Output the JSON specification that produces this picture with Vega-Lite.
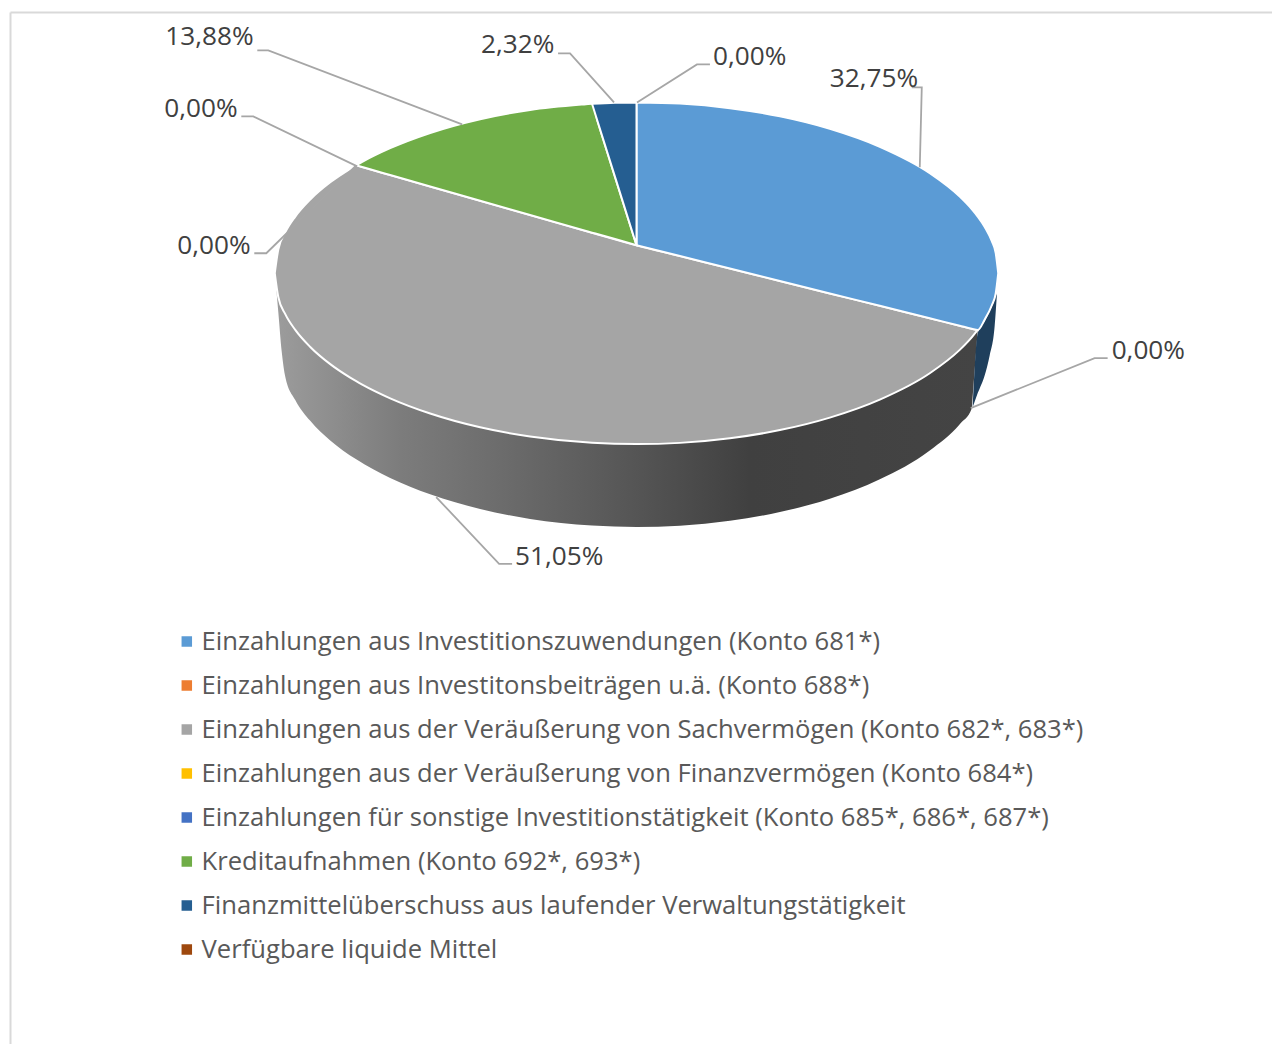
{
"$schema":"https://vega.github.io/schema/vega-lite/v6.json",
"width":1273,"height":1045,"padding":0,
"autosize":{"type":"fit","contains":"padding"},
"background":"white",
"config":{"view":{"stroke":null},"font":"Open Sans"},
"encoding":{
"x":{"type":"quantitative","scale":{"domain":[-0.5,1272.5],"nice":false,"zero":false},"axis":null},
"y":{"type":"quantitative","scale":{"domain":[1044.5,-0.5],"nice":false,"zero":false},"axis":null}
},
"layer":[
{"data":{"values":[{"x":10,"y":12,"x2":1272.5,"y2":12},{"x":10,"y":12,"x2":10,"y2":1044.5}]},
 "mark":{"type":"rule","color":"#d9d9d9","strokeWidth":2},
 "encoding":{"x":{"field":"x","type":"quantitative"},"y":{"field":"y","type":"quantitative"},"x2":{"field":"x2"},"y2":{"field":"y2"}}},
{"data":{"values":[
{"x":276,"y":288.5,"y2":288.5},{"x":278,"y":296.8,"y2":311.6},{"x":281.5,"y":306.5,"y2":352},{"x":285,"y":313.9,"y2":376.5},{"x":295,"y":329.7,"y2":399.8},{"x":310,"y":346.8,"y2":420.7},{"x":330,"y":364,"y2":440.3},{"x":356,"y":381.1,"y2":459.3},{"x":390,"y":398.2,"y2":477.9},{"x":430,"y":413.4,"y2":494.3},{"x":480,"y":427.2,"y2":509.1},{"x":530,"y":436.4,"y2":518.9},{"x":592,"y":442.7,"y2":525.6},{"x":636.5,"y":444,"y2":527},{"x":680,"y":442.8,"y2":525.7},{"x":730,"y":438.2,"y2":520.8},{"x":780,"y":430,"y2":512.1},{"x":830,"y":417.5,"y2":498.7},{"x":880,"y":399.5,"y2":479.3},{"x":930,"y":373.1,"y2":450.4},{"x":960,"y":349.7,"y2":424.1},{"x":972,"y":337.2,"y2":408.5},{"x":973,"y":336,"y2":395.4},{"x":977,"y":331,"y2":342.8},{"x":978,"y":329.7,"y2":329.7}
]},
 "mark":{"type":"area","orient":"vertical","interpolate":"monotone","color":{"gradient":"linear","x1":0,"x2":1,"y1":0,"y2":0,"stops":[{"offset":0,"color":"#9c9c9c"},{"offset":0.177,"color":"#7c7c7c"},{"offset":0.32,"color":"#6c6c6c"},{"offset":0.513,"color":"#555555"},{"offset":0.675,"color":"#404040"},{"offset":1,"color":"#444444"}]}},
 "encoding":{"x":{"field":"x","type":"quantitative"},"y":{"field":"y","type":"quantitative","stack":null},"y2":{"field":"y2"}}},
{"data":{"values":[
{"x":973,"y":405,"y2":407},{"x":978,"y":333,"y2":393},{"x":985,"y":321,"y2":375},{"x":990,"y":311,"y2":355},{"x":995,"y":299,"y2":325},{"x":997,"y":293,"y2":297}
]},
 "mark":{"type":"area","orient":"vertical","interpolate":"monotone","color":"#1f3f5c"},
 "encoding":{"x":{"field":"x","type":"quantitative"},"y":{"field":"y","type":"quantitative","stack":null},"y2":{"field":"y2"}}},
{"data":{"values":[
{"s":"Einzahlungen aus der Veräußerung von Sachvermögen (Konto 682*, 683*)","x":274.5,"y":273,"y2":273},{"s":"Einzahlungen aus der Veräußerung von Sachvermögen (Konto 682*, 683*)","x":278,"y":249.2,"y2":296.8},{"s":"Einzahlungen aus der Veräußerung von Sachvermögen (Konto 682*, 683*)","x":285,"y":232.1,"y2":313.9},{"s":"Einzahlungen aus der Veräußerung von Sachvermögen (Konto 682*, 683*)","x":295,"y":216.3,"y2":329.7},{"s":"Einzahlungen aus der Veräußerung von Sachvermögen (Konto 682*, 683*)","x":310,"y":199.2,"y2":346.8},{"s":"Einzahlungen aus der Veräußerung von Sachvermögen (Konto 682*, 683*)","x":330,"y":182,"y2":364},{"s":"Einzahlungen aus der Veräußerung von Sachvermögen (Konto 682*, 683*)","x":350,"y":168.5,"y2":377.5},{"s":"Einzahlungen aus der Veräußerung von Sachvermögen (Konto 682*, 683*)","x":356,"y":164.9,"y2":381.1},{"s":"Einzahlungen aus der Veräußerung von Sachvermögen (Konto 682*, 683*)","x":362,"y":166.7,"y2":384.5},{"s":"Einzahlungen aus der Veräußerung von Sachvermögen (Konto 682*, 683*)","x":390,"y":174.7,"y2":398.2},{"s":"Einzahlungen aus der Veräußerung von Sachvermögen (Konto 682*, 683*)","x":430,"y":186.1,"y2":413.4},{"s":"Einzahlungen aus der Veräußerung von Sachvermögen (Konto 682*, 683*)","x":480,"y":200.5,"y2":427.2},{"s":"Einzahlungen aus der Veräußerung von Sachvermögen (Konto 682*, 683*)","x":530,"y":214.7,"y2":436.4},{"s":"Einzahlungen aus der Veräußerung von Sachvermögen (Konto 682*, 683*)","x":592,"y":232.4,"y2":442.7},{"s":"Einzahlungen aus der Veräußerung von Sachvermögen (Konto 682*, 683*)","x":636.5,"y":245,"y2":444},{"s":"Einzahlungen aus der Veräußerung von Sachvermögen (Konto 682*, 683*)","x":680,"y":255.8,"y2":442.8},{"s":"Einzahlungen aus der Veräußerung von Sachvermögen (Konto 682*, 683*)","x":730,"y":268.3,"y2":438.2},{"s":"Einzahlungen aus der Veräußerung von Sachvermögen (Konto 682*, 683*)","x":780,"y":280.7,"y2":430},{"s":"Einzahlungen aus der Veräußerung von Sachvermögen (Konto 682*, 683*)","x":830,"y":293.2,"y2":417.5},{"s":"Einzahlungen aus der Veräußerung von Sachvermögen (Konto 682*, 683*)","x":880,"y":305.6,"y2":399.5},{"s":"Einzahlungen aus der Veräußerung von Sachvermögen (Konto 682*, 683*)","x":930,"y":318.1,"y2":373.1},{"s":"Einzahlungen aus der Veräußerung von Sachvermögen (Konto 682*, 683*)","x":960,"y":325.5,"y2":349.7},{"s":"Einzahlungen aus der Veräußerung von Sachvermögen (Konto 682*, 683*)","x":972,"y":328.5,"y2":337.2},{"s":"Einzahlungen aus der Veräußerung von Sachvermögen (Konto 682*, 683*)","x":978,"y":329.8,"y2":329.8},
{"s":"Einzahlungen aus Investitionszuwendungen (Konto 681*)","x":636.5,"y":102,"y2":245},{"s":"Einzahlungen aus Investitionszuwendungen (Konto 681*)","x":680,"y":103.2,"y2":255.8},{"s":"Einzahlungen aus Investitionszuwendungen (Konto 681*)","x":730,"y":107.8,"y2":268.3},{"s":"Einzahlungen aus Investitionszuwendungen (Konto 681*)","x":780,"y":116,"y2":280.7},{"s":"Einzahlungen aus Investitionszuwendungen (Konto 681*)","x":830,"y":128.5,"y2":293.2},{"s":"Einzahlungen aus Investitionszuwendungen (Konto 681*)","x":880,"y":146.5,"y2":305.6},{"s":"Einzahlungen aus Investitionszuwendungen (Konto 681*)","x":930,"y":172.9,"y2":318.1},{"s":"Einzahlungen aus Investitionszuwendungen (Konto 681*)","x":960,"y":196.3,"y2":325.5},{"s":"Einzahlungen aus Investitionszuwendungen (Konto 681*)","x":972,"y":208.8,"y2":328.5},{"s":"Einzahlungen aus Investitionszuwendungen (Konto 681*)","x":978,"y":216.3,"y2":329.8},{"s":"Einzahlungen aus Investitionszuwendungen (Konto 681*)","x":985,"y":226.7,"y2":319.3},{"s":"Einzahlungen aus Investitionszuwendungen (Konto 681*)","x":992,"y":240.7,"y2":305.3},{"s":"Einzahlungen aus Investitionszuwendungen (Konto 681*)","x":996,"y":252.9,"y2":293.1},{"s":"Einzahlungen aus Investitionszuwendungen (Konto 681*)","x":998.5,"y":273,"y2":273},
{"s":"Kreditaufnahmen (Konto 692*, 693*)","x":356,"y":164.9,"y2":164.9},{"s":"Kreditaufnahmen (Konto 692*, 693*)","x":362,"y":161.5,"y2":166.7},{"s":"Kreditaufnahmen (Konto 692*, 693*)","x":390,"y":147.8,"y2":174.7},{"s":"Kreditaufnahmen (Konto 692*, 693*)","x":430,"y":132.6,"y2":186.1},{"s":"Kreditaufnahmen (Konto 692*, 693*)","x":480,"y":118.8,"y2":200.5},{"s":"Kreditaufnahmen (Konto 692*, 693*)","x":530,"y":109.6,"y2":214.7},{"s":"Kreditaufnahmen (Konto 692*, 693*)","x":586,"y":103.8,"y2":230.7},{"s":"Kreditaufnahmen (Konto 692*, 693*)","x":592,"y":103.3,"y2":232.4},{"s":"Kreditaufnahmen (Konto 692*, 693*)","x":598,"y":122.4,"y2":234},{"s":"Kreditaufnahmen (Konto 692*, 693*)","x":636.5,"y":245,"y2":245},
{"s":"Finanzmittelüberschuss aus laufender Verwaltungstätigkeit","x":592,"y":103.3,"y2":103.3},{"s":"Finanzmittelüberschuss aus laufender Verwaltungstätigkeit","x":615,"y":102.3,"y2":176.5},{"s":"Finanzmittelüberschuss aus laufender Verwaltungstätigkeit","x":636.5,"y":102,"y2":245}
]},
 "mark":{"type":"area","orient":"vertical","interpolate":"monotone","stroke":"white","strokeWidth":2},
 "encoding":{"x":{"field":"x","type":"quantitative"},"y":{"field":"y","type":"quantitative","stack":null},"y2":{"field":"y2"},
  "color":{"field":"s","type":"nominal","scale":{"domain":["Einzahlungen aus Investitionszuwendungen (Konto 681*)","Einzahlungen aus Investitonsbeiträgen u.ä. (Konto 688*)","Einzahlungen aus der Veräußerung von Sachvermögen (Konto 682*, 683*)","Einzahlungen aus der Veräußerung von Finanzvermögen (Konto 684*)","Einzahlungen für sonstige Investitionstätigkeit (Konto 685*, 686*, 687*)","Kreditaufnahmen (Konto 692*, 693*)","Finanzmittelüberschuss aus laufender Verwaltungstätigkeit","Verfügbare liquide Mittel"],"range":["#5b9bd5","#ed7d31","#a5a5a5","#ffc000","#4472c4","#70ad47","#255e91","#9e480e"]},
  "legend":{"title":null,"orient":"none","legendX":174,"legendY":624,"symbolType":"square","symbolSize":110,"symbolStrokeColor":"transparent","symbolStrokeWidth":0,"labelFontSize":25.6,"labelColor":"#595959","labelFont":"Open Sans","labelLimit":1000,"labelOffset":2,"rowPadding":9,"clipHeight":35}}}},
{"data":{"values":[
{"k":"a","o":1,"x":257,"y":50},{"k":"a","o":2,"x":268,"y":50},{"k":"a","o":3,"x":462,"y":124},
{"k":"b","o":1,"x":241,"y":116},{"k":"b","o":2,"x":253,"y":116},{"k":"b","o":3,"x":357,"y":166},
{"k":"c","o":1,"x":254,"y":253},{"k":"c","o":2,"x":266,"y":253},{"k":"c","o":3,"x":356,"y":165},
{"k":"d","o":1,"x":558,"y":53},{"k":"d","o":2,"x":570,"y":53},{"k":"d","o":3,"x":614,"y":102},
{"k":"e","o":1,"x":710,"y":64},{"k":"e","o":2,"x":697,"y":64},{"k":"e","o":3,"x":637,"y":102},
{"k":"f","o":1,"x":912,"y":87},{"k":"f","o":2,"x":922,"y":87},{"k":"f","o":3,"x":920,"y":167},
{"k":"g","o":1,"x":1108,"y":358},{"k":"g","o":2,"x":1095,"y":358},{"k":"g","o":3,"x":971,"y":408},
{"k":"h","o":1,"x":512,"y":564},{"k":"h","o":2,"x":499,"y":564},{"k":"h","o":3,"x":436,"y":497}
]},
 "mark":{"type":"line","color":"#a6a6a6","strokeWidth":1.8},
 "encoding":{"x":{"field":"x","type":"quantitative"},"y":{"field":"y","type":"quantitative"},"detail":{"field":"k"},"order":{"field":"o"}}},
{"data":{"values":[
{"x":165,"y":37,"t":"13,88%"},{"x":164,"y":109,"t":"0,00%"},{"x":177,"y":246,"t":"0,00%"},{"x":481,"y":45,"t":"2,32%"},{"x":713,"y":57,"t":"0,00%"},{"x":830,"y":79,"t":"32,75%"},{"x":1112,"y":351,"t":"0,00%"},{"x":515,"y":557,"t":"51,05%"}
]},
 "mark":{"type":"text","align":"left","baseline":"middle","fontSize":26.2,"color":"#404040","font":"Open Sans"},
 "encoding":{"x":{"field":"x","type":"quantitative"},"y":{"field":"y","type":"quantitative"},"text":{"field":"t"}}}
]
}
